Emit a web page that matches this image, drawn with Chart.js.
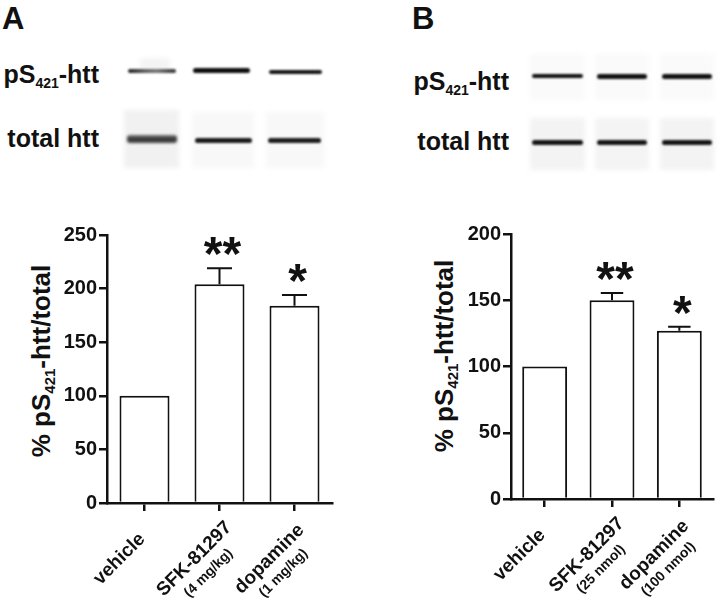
<!DOCTYPE html>
<html>
<head>
<meta charset="utf-8">
<script src="https://cdn.jsdelivr.net/npm/chart.js@4/dist/chart.umd.min.js"></script>
<style>
  html, body { margin: 0; padding: 0; background: #fff; }
  body { width: 720px; height: 601px; position: relative; overflow: hidden;
         font-family: "Liberation Sans", Arial, sans-serif; font-weight: bold; color: #111; }
  .abs { position: absolute; }
  .letter { font-size: 31px; line-height: 1; }
  .blotlabel { font-size: 25px; line-height: 1; text-align: right; white-space: nowrap; }
  .blotlabel sub { font-size: 14px; vertical-align: -5px; }
  .lane { position: absolute; background: #f6f6f6; filter: blur(2px); }
  .band { position: absolute; background: #1a1a1a; border-radius: 3px; filter: blur(1px); }
  .ytitle { font-size: 26px; line-height: 1; white-space: nowrap; transform: translate(-50%, -50%) rotate(-90deg); }
  .ytitle sub { font-size: 15px; vertical-align: -5px; }
  canvas { position: absolute; top: 200px; }
</style>
</head>
<body>

<div class="abs letter" style="left:2px; top:3px;">A</div>
<div class="abs letter" style="left:412px; top:3px;">B</div>

<!-- blot labels -->
<div class="abs blotlabel" style="right:621px; top:62px;">pS<sub>421</sub>-htt</div>
<div class="abs blotlabel" style="right:621px; top:126px;">total htt</div>
<div class="abs blotlabel" style="right:211px; top:69px;">pS<sub>421</sub>-htt</div>
<div class="abs blotlabel" style="right:211px; top:129px;">total htt</div>

<!-- blot A -->
<div class="lane" style="left:124px; top:110px; width:55px; height:58px; background:#f1f1f1;"></div>
<div class="lane" style="left:192px; top:112px; width:62px; height:56px; background:#f8f8f8;"></div>
<div class="lane" style="left:266px; top:112px; width:58px; height:56px; background:#f8f8f8;"></div>
<div class="lane" style="left:140px; top:58px; width:30px; height:12px; background:#f4f4f4;"></div>

<div class="band" style="left:128px; top:69px; width:48px; height:4px; background:linear-gradient(90deg,#222,#666 40%,#777 60%,#333);"></div>
<div class="band" style="left:193px; top:68px; width:57px; height:5px; background:#0e0e0e;"></div>
<div class="band" style="left:269px; top:70px; width:53px; height:4px; background:#151515;"></div>

<div class="band" style="left:127px; top:135px; width:50px; height:8px; background:linear-gradient(180deg,#777,#333 50%,#444); filter:blur(1.5px);"></div>
<div class="band" style="left:195px; top:138px; width:57px; height:5px; background:#1a1a1a;"></div>
<div class="band" style="left:268px; top:138px; width:53px; height:5px; background:#1c1c1c;"></div>

<!-- blot B -->
<div class="lane" style="left:530px; top:54px; width:55px; height:46px; background:#fafafa;"></div>
<div class="lane" style="left:595px; top:54px; width:54px; height:46px; background:#fafafa;"></div>
<div class="lane" style="left:660px; top:54px; width:54px; height:46px; background:#fafafa;"></div>
<div class="lane" style="left:530px; top:118px; width:55px; height:52px; background:#f3f3f3;"></div>
<div class="lane" style="left:595px; top:118px; width:54px; height:52px; background:#f4f4f4;"></div>
<div class="lane" style="left:660px; top:118px; width:54px; height:52px; background:#f3f3f3;"></div>

<div class="band" style="left:532px; top:74px; width:51px; height:4px; background:#111;"></div>
<div class="band" style="left:597px; top:74px; width:50px; height:5px; background:#111;"></div>
<div class="band" style="left:662px; top:74px; width:50px; height:5px; background:#111;"></div>
<div class="band" style="left:532px; top:140px; width:51px; height:5px; background:#151515;"></div>
<div class="band" style="left:597px; top:140px; width:50px; height:5px; background:#151515;"></div>
<div class="band" style="left:662px; top:140px; width:50px; height:5px; background:#151515;"></div>

<!-- y axis titles -->
<div class="abs ytitle" style="left:42px; top:361px;">% pS<sub>421</sub>-htt/total</div>
<div class="abs ytitle" style="left:445px; top:356px;">% pS<sub>421</sub>-htt/total</div>

<canvas id="chartA" width="360" height="401" style="left:0px;"></canvas>
<canvas id="chartB" width="360" height="401" style="left:360px;"></canvas>

<script>
// data
const treatments = ["vehicle", "SFK-81297", "dopamine"];
const dosesA = ["", "(4 mg/kg)", "(1 mg/kg)"];
const dosesB = ["", "(25 nmol)", "(100 nmol)"];
const meanA = [100, 204, 184];
const semA = [0, 15, 10];
const meanB = [100, 150, 127];
const semB = [0, 5.5, 3];
const sigA = ["", "**", "*"];
const sigB = ["", "**", "*"];
const yMaxA = 250;
const yMaxB = 200;
const yStep = 50;

const FONT = '"Liberation Sans", Arial, sans-serif';

// error bars (upper only) + asterisks
const errorBarPlugin = {
  id: 'errorBars',
  afterDatasetsDraw(chart, args, opts) {
    const ctx = chart.ctx;
    const yScale = chart.scales.y;
    const meta = chart.getDatasetMeta(0);
    ctx.save();
    ctx.strokeStyle = '#111';
    ctx.lineWidth = 2;
    meta.data.forEach((bar, i) => {
      const m = opts.mean[i], e = opts.sem[i];
      const yTop = yScale.getPixelForValue(m + e);
      if (e > 0) {
        const half = bar.width / 4;
        ctx.beginPath();
        ctx.moveTo(bar.x, yScale.getPixelForValue(m));
        ctx.lineTo(bar.x, yTop);
        ctx.moveTo(bar.x - half, yTop);
        ctx.lineTo(bar.x + half, yTop);
        ctx.stroke();
      }
      if (opts.sig[i]) {
        ctx.fillStyle = '#111';
        ctx.font = 'bold 48px ' + FONT;
        ctx.textAlign = 'center';
        ctx.textBaseline = 'alphabetic';
        ctx.fillText(opts.sig[i], bar.x + 3, yTop - 26 + 0.58 * 48);
      }
    });
    ctx.restore();
  }
};

// rotated two-line category labels
const xLabelPlugin = {
  id: 'xLabels',
  afterDraw(chart, args, opts) {
    const ctx = chart.ctx;
    const xs = chart.scales.x;
    ctx.save();
    ctx.fillStyle = '#111';
    ctx.textAlign = 'center';
    ctx.textBaseline = 'middle';
    treatments.forEach((name, i) => {
      const x = xs.getPixelForTick(i);
      ctx.save();
      ctx.translate(x - 25, xs.top + 56);
      ctx.rotate(-Math.PI / 4);
      ctx.font = 'bold 19px ' + FONT;
      ctx.fillText(name, 0, 0);
      if (opts.doses[i]) {
        ctx.font = 'bold 14px ' + FONT;
        ctx.fillText(opts.doses[i], 0, 20);
      }
      ctx.restore();
    });
    ctx.restore();
  }
};

function makeChart(id, mean, sem, sig, doses, yMax, pad, yWidth, xHeight) {
  const ctx = document.getElementById(id).getContext('2d');
  return new Chart(ctx, {
    type: 'bar',
    data: {
      labels: treatments,
      datasets: [{
        data: mean,
        backgroundColor: '#ffffff',
        borderColor: '#111',
        borderWidth: 2,
        barPercentage: 2 / 3,
        categoryPercentage: 1
      }]
    },
    options: {
      responsive: false,
      animation: false,
      devicePixelRatio: 1,
      layout: { padding: pad },
      scales: {
        x: {
          offset: true,
          grid: { display: true, offset: false, drawOnChartArea: false, drawTicks: true,
                  tickLength: 8, lineWidth: 2.5, color: '#111' },
          border: { display: true, width: 2.5, color: '#111' },
          ticks: { display: false },
          afterFit(scale) { scale.height = xHeight; }
        },
        y: {
          min: 0,
          max: yMax,
          grid: { drawOnChartArea: false, drawTicks: true, tickLength: 8, lineWidth: 2.5, color: '#111' },
          border: { display: true, width: 2.5, color: '#111' },
          ticks: { stepSize: yStep, padding: 2, color: '#111',
                   font: { family: FONT, size: 20, weight: 'bold' } },
          afterFit(scale) { scale.width = yWidth; }
        }
      },
      plugins: {
        legend: { display: false },
        tooltip: { enabled: false },
        errorBars: { mean: mean, sem: sem, sig: sig },
        xLabels: { doses: doses }
      }
    },
    plugins: [errorBarPlugin, xLabelPlugin]
  });
}

makeChart('chartA', meanA, semA, sigA, dosesA, yMaxA,
          { top: 35, left: 0, right: 28, bottom: 0 }, 107, 98);
makeChart('chartB', meanB, semB, sigB, dosesB, yMaxB,
          { top: 34, left: 0, right: 7, bottom: 0 }, 151, 102);
</script>
</body>
</html>
